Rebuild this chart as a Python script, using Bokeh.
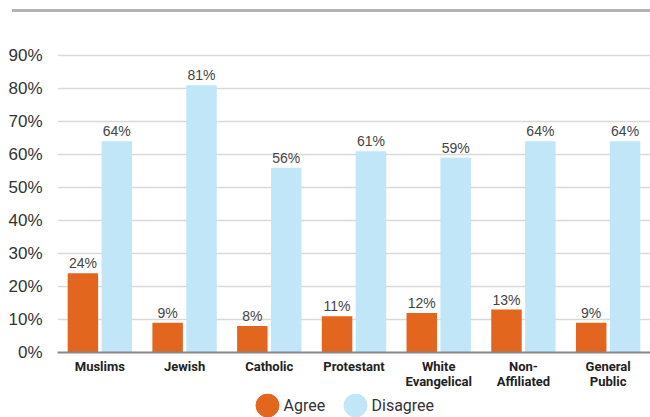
from bokeh.plotting import figure
from bokeh.models import (FactorRange, Range1d, FixedTicker, PrintfTickFormatter,
                          ColumnDataSource, Div)
from bokeh.layouts import column
from bokeh.transform import dodge
from bokeh.core.properties import value
from bokeh.embed import file_html
from bokeh.resources import INLINE

categories = ["Muslims", "Jewish", "Catholic", "Protestant",
              "White\nEvangelical", "Non-\nAffiliated", "General\nPublic"]
agree = [24, 9, 8, 11, 12, 13, 9]
disagree = [64, 81, 56, 61, 59, 64, 64]
y_ticks = [0, 10, 20, 30, 40, 50, 60, 70, 80, 90]
series_names = ["Agree", "Disagree"]
LEGEND_ROW = "legend"

ORANGE = "#E3661F"
BLUE = "#C1E6F8"

src = ColumnDataSource(dict(
    cat=categories,
    agree=agree,
    disagree=disagree,
    agree_lbl=[f"{v}%" for v in agree],
    disagree_lbl=[f"{v}%" for v in disagree],
))

# top grey rule
rule = Div(text='<div style="margin:9px 0 0 12px;height:3px;width:638px;background:#b3b3b3;"></div>',
           width=650, height=12, margin=0)

p = figure(width=650, height=379, output_backend="svg", toolbar_location=None,
           x_range=FactorRange(factors=categories), y_range=Range1d(0, 90.9),
           min_border_left=57, min_border_right=0, min_border_top=40,
           min_border_bottom=36, margin=0)
p.outline_line_color = None

p.vbar(x=dodge("cat", -0.2, range=p.x_range), top="agree", width=0.36,
       source=src, fill_color=ORANGE, line_color=None)
p.vbar(x=dodge("cat", 0.2, range=p.x_range), top="disagree", width=0.36,
       source=src, fill_color=BLUE, line_color=None)

for col, lbl, off in [("agree", "agree_lbl", -0.2), ("disagree", "disagree_lbl", 0.2)]:
    p.text(x=dodge("cat", off, range=p.x_range), y=col, text=lbl, source=src,
           text_align="center", text_baseline="bottom", y_offset=-2,
           text_font=value("Liberation Sans"), text_font_size="14px",
           text_color="#444444")

p.yaxis.ticker = FixedTicker(ticks=y_ticks)
p.yaxis.formatter = PrintfTickFormatter(format="%d%%")
p.yaxis.axis_line_color = None
p.yaxis.major_tick_line_color = None
p.yaxis.minor_tick_line_color = None
p.yaxis.major_label_text_font = "Liberation Sans"
p.yaxis.major_label_text_font_size = "17px"
p.yaxis.major_label_text_color = "#333333"
p.yaxis.major_label_standoff = 9

p.xaxis.axis_line_color = "#888888"
p.xaxis.axis_line_width = 2
p.xaxis.major_tick_line_color = None
p.xaxis.minor_tick_line_color = None
p.xaxis.major_label_text_font = "Roboto"
p.xaxis.major_label_text_font_style = "bold"
p.xaxis.major_label_text_font_size = "13px"
p.xaxis.major_label_text_color = "#222222"
p.xaxis.major_label_text_line_height = 1.0
p.xaxis.major_label_standoff = 0

p.xgrid.grid_line_color = None
p.ygrid.grid_line_color = "#d9d9d9"
p.ygrid.grid_line_width = 1.5

# legend strip, drawn on its own categorical scale (frame aligned with main plot)
lsrc = ColumnDataSource(dict(name=series_names, row=[LEGEND_ROW] * len(series_names),
                             color=[ORANGE, BLUE]))
lg = figure(width=650, height=26, output_backend="svg", toolbar_location=None,
            x_range=FactorRange(factors=series_names, range_padding=2.37,
                                range_padding_units="absolute"),
            y_range=FactorRange(factors=[LEGEND_ROW]),
            min_border_left=57, min_border_right=0, min_border_top=2,
            min_border_bottom=0, margin=0)
lg.axis.visible = False
lg.grid.visible = False
lg.outline_line_color = None
lg.scatter(x=dodge("name", -0.483, range=lg.x_range), y="row", source=lsrc,
           marker="circle", size=23, fill_color="color", line_color="color")
lg.text(x=dodge("name", -0.483, range=lg.x_range), y="row", text="name", source=lsrc,
        x_offset=16, text_align="left", text_baseline="middle",
        text_font=value("Roboto"), text_font_size="16px", text_color="#333333")

layout = column(rule, p, lg, spacing=0, margin=0)
open("out.html", "w").write(file_html(layout, INLINE))
